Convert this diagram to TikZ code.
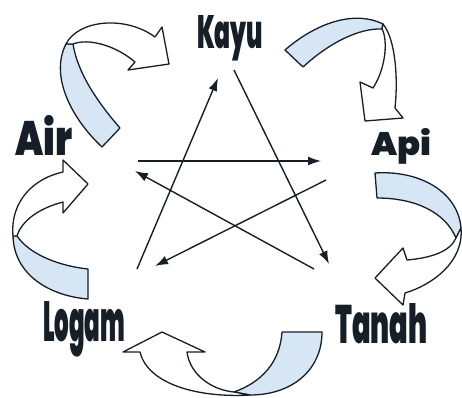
\documentclass[tikz,border=0pt]{standalone}
\usepackage{fontspec}
\newfontfamily\lblfont{Poppins Black}
\usetikzlibrary{arrows.meta}
\definecolor{biru}{RGB}{214,230,245}
\definecolor{garis}{RGB}{22,30,40}
\newcommand\elemen[3]{\resizebox{#1pt}{#2pt}{\lblfont #3}}

\begin{document}
\begin{tikzpicture}[x=1pt, y=-1pt, line join=round,
    panah/.style={draw=garis, line width=1.4pt, -{Latex[length=13pt,width=9pt]}},
    sisibawah/.style={draw=garis, fill=biru, line width=1.3pt},
    sisiatas/.style={draw=garis, fill=white, line width=1.3pt},
    label/.style={inner sep=0pt, anchor=base west, text=garis}]

    \useasboundingbox (0,0) rectangle (462,397);

    % Nama unsur
    \node[label] (kayu)  at (197,48)  {\elemen{66}{33}{Kayu}};
    \node[label] (api)   at (371,155) {\elemen{60}{27}{Api}};
    \node[label] (tanah) at (335,343) {\elemen{92}{40}{Tanah}};
    \node[label] (logam) at (43,341)  {\elemen{82}{40}{Logam}};
    \node[label] (air)   at (15,155)  {\elemen{57}{40}{Air}};

    % Ujung panah bintang
    \coordinate (lg1) at (137,269); \coordinate (ky1) at (218,78);
    \coordinate (ky2) at (234,70);  \coordinate (tn1) at (329,264);
    \coordinate (ar1) at (138,161); \coordinate (ap1) at (321,161);
    \coordinate (ap2) at (326,180); \coordinate (lg2) at (155,266);
    \coordinate (tn2) at (314,269); \coordinate (ar2) at (135,171);

    % Bintang
    \draw[panah] (lg1) -- (ky1);
    \draw[panah] (ky2) -- (tn1);
    \draw[panah] (ar1) -- (ap1);
    \draw[panah] (ap2) -- (lg2);
    \draw[panah] (tn2) -- (ar2);

    % Air -> Kayu
    \filldraw[sisibawah] (102,147) .. controls (70,117) and (50,75) .. (66,44) -- (73,44)
        .. controls (78,75) and (100,105) .. (120,128) -- cycle;
    \filldraw[sisiatas] (66,44) .. controls (78,20) and (125,15) .. (155,37) -- (162,27)
        -- (169,64) -- (128,70) -- (135,62) .. controls (115,45) and (88,38) .. (73,44) -- cycle;

    % Kayu -> Api
    \filldraw[sisibawah] (285,50) .. controls (310,28) and (350,8) .. (383,24) -- (382,29)
        .. controls (360,28) and (330,42) .. (303,67) -- cycle;
    \filldraw[sisiatas] (383,24) .. controls (396,40) and (398,80) .. (395,108) -- (403,118)
        -- (365,121) -- (360,82) -- (373,88) .. controls (386,68) and (388,40) .. (382,29) -- cycle;

    % Api -> Tanah
    \filldraw[sisibawah] (375,173) .. controls (420,170) and (458,192) .. (461,228) -- (456,238)
        .. controls (445,212) and (415,198) .. (377,198) -- cycle;
    \filldraw[sisiatas] (461,228) .. controls (464,262) and (432,285) .. (405,293) -- (403,305)
        -- (375,278) -- (403,248) -- (407,260) .. controls (430,258) and (450,252) .. (456,238) -- cycle;

    % Tanah -> Logam
    \filldraw[sisibawah] (282,332) -- (322,332) .. controls (322,370) and (292,395) .. (250,395)
        -- (234,392) .. controls (262,382) and (280,362) .. (282,332) -- cycle;
    \filldraw[sisiatas] (250,395) .. controls (200,398) and (148,385) .. (140,352) -- (123,352)
        -- (162,332) -- (205,352) -- (187,352) .. controls (190,375) and (212,390) .. (234,392) -- cycle;

    % Logam -> Air
    \filldraw[sisibawah] (88,269) -- (88,299) .. controls (50,296) and (14,275) .. (13,236)
        -- (17,236) .. controls (30,255) and (60,266) .. (88,269) -- cycle;
    \filldraw[sisiatas] (13,236) .. controls (10,200) and (35,178) .. (63,172) -- (63,160)
        -- (88,184) -- (63,213) -- (63,202) .. controls (40,208) and (22,220) .. (17,236) -- cycle;

\end{tikzpicture}
\end{document}
